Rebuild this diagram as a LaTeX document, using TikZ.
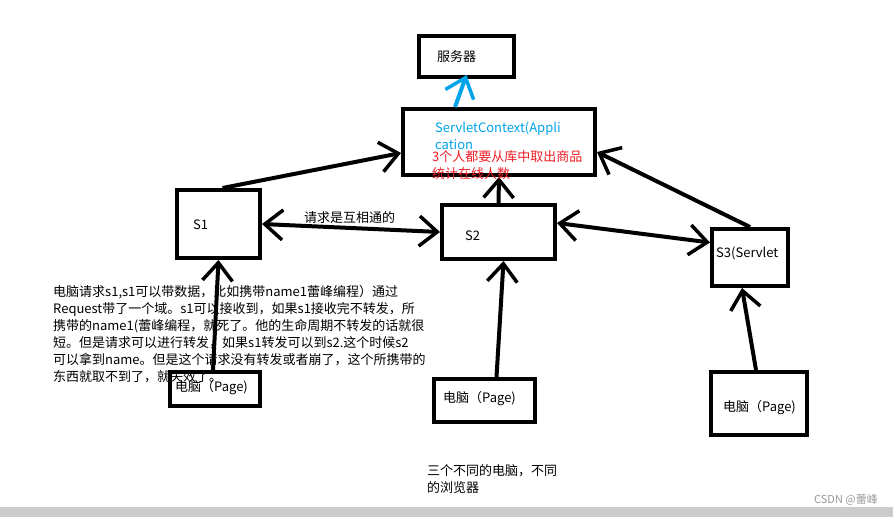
\documentclass[tikz,border=0pt]{standalone}
\usepackage{fontspec}
\newfontfamily\cjk{Noto Sans CJK SC}
\usetikzlibrary{arrows.meta}
\definecolor{paintblue}{HTML}{00A2E8}
\definecolor{paintred}{HTML}{ED1C24}

\tikzset{
  box/.style={draw, line width=4pt, inner sep=0pt},
  note/.style={anchor=west, inner sep=0pt},
  barb/.tip={Straight Barb[length=18pt,width=30pt,line width=3.5pt]},
  link/.style={line width=4pt, -barb},
  twoway/.style={line width=4pt, barb-barb}
}

\begin{document}
\begin{tikzpicture}[x=1pt,y=-1pt,font=\cjk\fontsize{13}{17}\selectfont]
    \useasboundingbox (0,0) rectangle (893,517);

    % Bottom bar
    \fill[gray!40] (0,507) rectangle (893,517);

    % Explanation texts
    \node[anchor=north west, inner sep=0pt, align=left] (memo) at (53,285)
      {电脑请求s1,s1可以带数据，比如携带name1蕾峰编程）通过\\
       Request带了一个域。s1可以接收到，如果s1接收完不转发，所\\
       携带的name1(蕾峰编程，就死了。他的生命周期不转发的话就很\\
       短。但是请求可以进行转发，如果s1转发可以到s2.这个时候s2\\
       可以拿到name。但是这个请求没有转发或者崩了，这个所携带的\\
       东西就取不到了，就失效了。};
    \node[anchor=north west, inner sep=0pt, align=left] (browsers) at (427,464)
      {三个不同的电脑，不同\\的浏览器};
    \node[anchor=east, inner sep=0pt, text=black!40, font=\cjk\fontsize{11}{13}\selectfont] (mark) at (878,500) {CSDN @蕾峰};

    % Boxes
    \node[box, minimum width=95pt, minimum height=41pt] (server) at (466.5,56.5) {};
    \node[box, minimum width=192pt, minimum height=66pt] (ctx) at (499,142) {};
    \node[box, minimum width=83pt, minimum height=68pt] (s1) at (218.5,224) {};
    \node[box, minimum width=113pt, minimum height=54pt] (s2) at (498.5,232) {};
    \node[box, minimum width=76pt, minimum height=57pt] (s3) at (750,257.5) {};
    \node[box, minimum width=90pt, minimum height=34pt] (p1) at (215,389) {};
    \node[box, minimum width=101pt, minimum height=43pt] (p2) at (484.5,400.5) {};
    \node[box, minimum width=96pt, minimum height=63pt] (p3) at (759,403.5) {};

    % Arrows
    \draw[link, paintblue] ([xshift=-44pt]ctx.north) -- ([yshift=4pt]server.south);
    \draw[link] ([xshift=4pt]s1.north) -- ([yshift=-11pt]ctx.west);
    \draw[link] (s2.north) -- (ctx.south);
    \draw[link] (s3.north) -- ([yshift=-10pt]ctx.east);
    \draw[twoway] (s1.east) -- (s2.west);
    \draw[twoway] ([yshift=9pt]s2.east) -- ([yshift=15pt]s3.west);
    \draw[link] ([xshift=-2pt]p1.north) -- (s1.south);
    \draw[link] ([xshift=12pt]p2.north) -- ([xshift=5pt]s2.south);
    \draw[link] ([xshift=-3pt]p3.north) -- ([xshift=-8pt]s3.south);

    % Labels
    \node[note] (servertxt) at (437,57) {服务器};
    \node[note, text=paintblue, align=left, anchor=north west] (ctxtxt) at (435,122) {ServletContext(Appli\\cation};
    \node[note, text=paintred, align=left, anchor=north west] (ctxnote) at (432,150) {3个人都要从库中取出商品\\统计在线人数};
    \node[note] (s1txt) at (193,225) {S1};
    \node[note] (s2txt) at (465,236) {S2};
    \node[note] (s3txt) at (716,253) {S3(Servlet};
    \node[note] (reqtxt) at (304,218) {请求是互相通的};
    \node[note] (p1txt) at (175,388) {电脑（Page)};
    \node[note] (p2txt) at (443,399) {电脑（Page)};
    \node[note] (p3txt) at (723,408) {电脑（Page)};
\end{tikzpicture}
\end{document}
